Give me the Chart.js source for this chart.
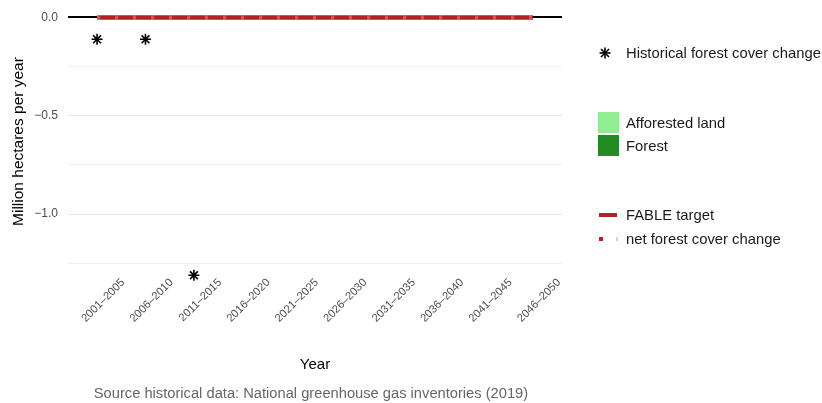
<!DOCTYPE html>
<html>
<head>
<meta charset="utf-8">
<script src="https://cdn.jsdelivr.net/npm/chart.js@4/dist/chart.umd.min.js"></script>
<style>
  html, body { margin: 0; padding: 0; background: #fff; }
  #wrap { position: relative; width: 822px; height: 403px; font-family: "Liberation Sans", Arial, sans-serif; }
  canvas { position: absolute; left: 0; top: 0; }
  .lg { position: absolute; font-size: 14.8px; color: #1a1a1a; white-space: nowrap; line-height: 16px; }
  .sw { position: absolute; }
  #caption { position: absolute; left: 0; width: 622px; top: 385px; text-align: center; font-size: 14.7px; color: #666; }
</style>
</head>
<body>
<div id="wrap">
  <canvas id="c" width="822" height="403"></canvas>
  <svg class="sw" style="left:599px;top:47px" width="12" height="12" viewBox="0 0 12 12">
    <g stroke="#000" stroke-width="1.6">
      <line x1="6" y1="0.5" x2="6" y2="11.5"/><line x1="0.5" y1="6" x2="11.5" y2="6"/>
      <line x1="2" y1="2" x2="10" y2="10"/><line x1="10" y1="2" x2="2" y2="10"/>
    </g>
  </svg>
  <div class="lg" style="left:626px;top:45px">Historical forest cover change</div>
  <div class="sw" style="left:598px;top:112px;width:21px;height:21px;background:#90ee90"></div>
  <div class="lg" style="left:626px;top:115px">Afforested land</div>
  <div class="sw" style="left:598px;top:135px;width:21px;height:21px;background:#228b22"></div>
  <div class="lg" style="left:626px;top:138px">Forest</div>
  <div class="sw" style="left:599px;top:213px;width:18px;height:4px;background:#b22222"></div>
  <div class="lg" style="left:626px;top:207px">FABLE target</div>
  <div class="sw" style="left:599px;top:237px;width:4px;height:4px;background:#b22222"></div>
  <div class="sw" style="left:616px;top:237px;width:2px;height:4px;background:#f4c2c2"></div>
  <div class="lg" style="left:626px;top:231px">net forest cover change</div>
  <div id="caption">Source historical data: National greenhouse gas inventories (2019)</div>
</div>
<script>
const categories = ["2001\u20132005","2006\u20132010","2011\u20132015","2016\u20132020","2021\u20132025","2026\u20132030","2031\u20132035","2036\u20132040","2041\u20132045","2046\u20132050"];
const historical = [-0.111, -0.111, -1.311, null, null, null, null, null, null, null];
const afforested = [0, 0, 0, 0, 0, 0, 0, 0, 0, 0];
const forest = [0, 0, 0, 0, 0, 0, 0, 0, 0, 0];
const fableTarget = [0, 0, 0, 0, 0, 0, 0, 0, 0, 0];
const netForestChange = [0, 0, 0, 0, 0, 0, 0, 0, 0, 0];

const toXY = arr => arr.map((v, i) => ({x: i, y: v}));

new Chart(document.getElementById('c'), {
  data: {
    datasets: [
      { type: 'bar', label: 'Afforested land', data: toXY(afforested), backgroundColor: '#90ee90', stack: 's', order: 5 },
      { type: 'bar', label: 'Forest', data: toXY(forest), backgroundColor: '#228b22', stack: 's', order: 5 },
      { type: 'line', label: 'FABLE target', data: toXY(fableTarget), borderColor: '#b22222', borderWidth: 4.6, pointRadius: 0, order: 3 },
      { type: 'line', label: 'net forest cover change', data: toXY(netForestChange), borderColor: 'rgba(240,140,140,0.5)', borderWidth: 4.6, borderDash: [3, 15], pointRadius: 0, order: 2 },
      { type: 'scatter', label: 'Historical forest cover change', data: toXY(historical), pointStyle: 'star', pointRadius: 5.5, borderColor: '#000', borderWidth: 1.6, backgroundColor: '#000', clip: false, order: 1 }
    ]
  },
  options: {
    responsive: false,
    animation: false,
    devicePixelRatio: 1,
    layout: { padding: { top: 4, right: 260, bottom: 25, left: 0 } },
    plugins: { legend: { display: false }, tooltip: { enabled: false } },
    scales: {
      x: {
        type: 'linear',
        min: -0.6, max: 9.6,
        offset: false,
        grid: { display: false, drawTicks: false },
        border: { display: false },
        ticks: {
          stepSize: 1,
          includeBounds: false,
          autoSkip: false,
          minRotation: 45, maxRotation: 45,
          labelOffset: 26,
          padding: 0,
          color: '#4d4d4d',
          font: { family: 'Liberation Sans', size: 11.2 },
          callback: v => Number.isInteger(v) && categories[v] !== undefined ? categories[v] : ''
        },
        title: { display: true, text: 'Year', color: '#000', font: { family: 'Liberation Sans', size: 15 }, padding: { top: 4, bottom: 4 } },
        afterFit: s => { s.height = 102; s.paddingLeft = 0; s.paddingRight = 0; }
      },
      y: {
        min: -1.315, max: 0.0528,
        grid: {
          drawTicks: false,
          color: c => (c.tick && Math.abs(c.tick.value) < 1e-9) ? '#000' : (Math.abs(c.tick.value * 2 - Math.round(c.tick.value * 2)) < 1e-6 ? '#e6e6e6' : '#f0f0f0'),
          lineWidth: c => (c.tick && Math.abs(c.tick.value) < 1e-9) ? 2 : 1
        },
        border: { display: false },
        ticks: {
          stepSize: 0.25,
          includeBounds: false,
          padding: 10,
          color: '#4d4d4d',
          font: { family: 'Liberation Sans', size: 12, lineHeight: 0.5 },
          callback: v => {
            if (Math.abs(v * 2 - Math.round(v * 2)) > 1e-6) return '';
            if (Math.abs(v) < 1e-9) return '0.0';
            return (v < 0 ? '\u2212' : '') + Math.abs(v).toFixed(1);
          }
        },
        title: { display: true, text: 'Million hectares per year', color: '#000', font: { family: 'Liberation Sans', size: 15.5 }, padding: { top: 9, bottom: 0 } },
        afterFit: s => { s.width = 68; s.paddingTop = 0; s.paddingBottom = 0; }
      }
    }
  }
});
</script>
</body>
</html>
